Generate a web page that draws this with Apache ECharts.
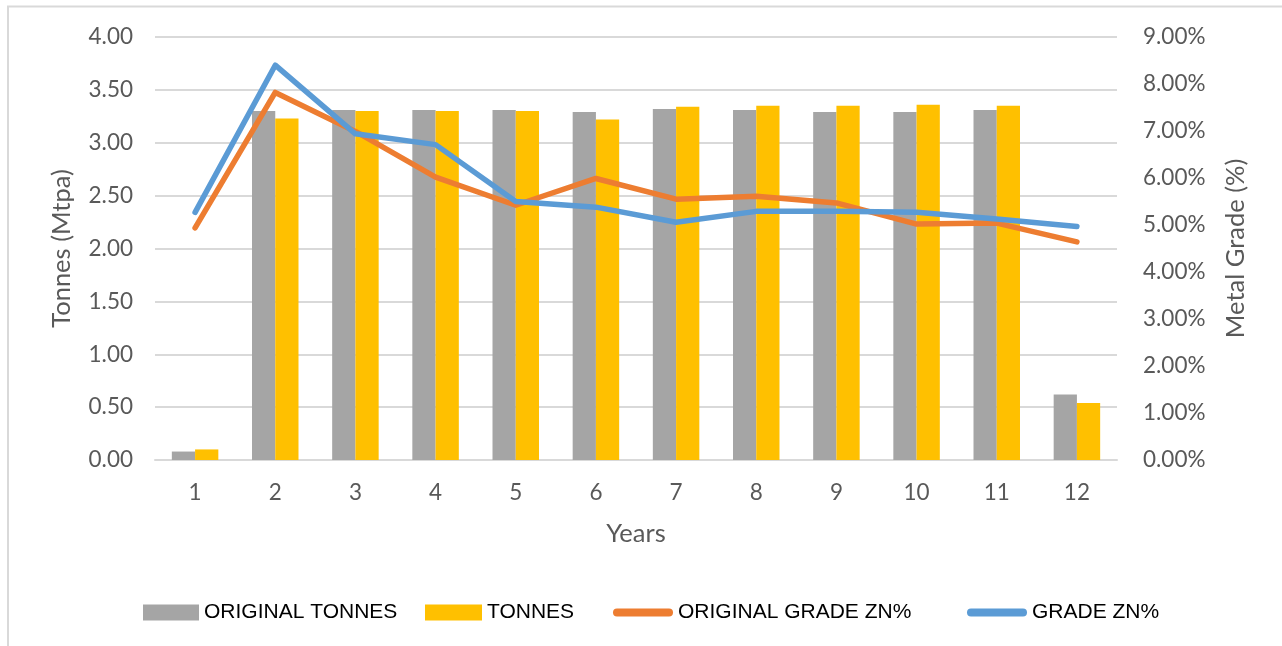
<!DOCTYPE html>
<html>
<head>
<meta charset="utf-8">
<script src="https://cdn.jsdelivr.net/npm/echarts@6/dist/echarts.min.js"></script>
<style>
html,body{margin:0;padding:0;background:#fff;}
#chart{width:1282px;height:646px;}
</style>
</head>
<body>
<div id="chart"></div>
<script>
const years = ['1','2','3','4','5','6','7','8','9','10','11','12'];
const originalTonnes = [0.08, 3.30, 3.31, 3.31, 3.31, 3.29, 3.32, 3.31, 3.29, 3.29, 3.31, 0.62];
const tonnes = [0.10, 3.23, 3.30, 3.30, 3.30, 3.22, 3.34, 3.35, 3.35, 3.36, 3.35, 0.54];
const originalGrade = [4.94, 7.82, 6.99, 6.02, 5.42, 5.99, 5.55, 5.61, 5.47, 5.02, 5.04, 4.64];
const grade = [5.27, 8.40, 6.94, 6.71, 5.50, 5.38, 5.06, 5.29, 5.29, 5.27, 5.13, 4.97];
const leftTicks = {min: 0, max: 4, interval: 0.5};
const rightTicks = {min: 0, max: 9, interval: 1};

const labelFont = {fontFamily: 'Lato', fontSize: 22.5, color: '#595959'};
const nameFont = {fontFamily: 'Lato', fontSize: 25.5, color: '#595959'};
const legendText = {fontFamily: 'Liberation Sans, Arial', fontSize: 21, color: '#000'};
const lineIcon = 'path://M4,0 L56,0 A4,4 0 0 1 56,8 L4,8 A4,4 0 0 1 4,0 Z';

const chart = echarts.init(document.getElementById('chart'));
chart.setOption({
  animation: false,
  backgroundColor: '#fff',
  graphic: [{
    type: 'polyline',
    shape: {points: [[8, 700], [8, 6.5], [1300, 6.5]]},
    style: {stroke: '#d9d9d9', lineWidth: 2, fill: null},
    silent: true
  }],
  grid: {left: 155, right: 165, top: 37, bottom: 186},
  legend: [
    {data: [{name: 'ORIGINAL TONNES', icon: 'rect'}], left: 138, top: 597, itemWidth: 56, itemHeight: 16, itemGap: 0, textStyle: legendText},
    {data: [{name: 'TONNES', icon: 'rect'}], left: 420, top: 597, itemWidth: 57, itemHeight: 16, itemGap: 0, textStyle: legendText},
    {data: [{name: 'ORIGINAL GRADE ZN%', icon: lineIcon}], left: 608, top: 597, itemWidth: 60, itemHeight: 16, itemGap: 0, textStyle: legendText},
    {data: [{name: 'GRADE ZN%', icon: lineIcon}], left: 962, top: 597, itemWidth: 60, itemHeight: 16, itemGap: 0, textStyle: legendText}
  ],
  xAxis: {
    type: 'category',
    data: years,
    name: 'Years',
    nameLocation: 'middle',
    nameGap: 61,
    nameTextStyle: nameFont,
    axisLine: {lineStyle: {color: '#d9d9d9', width: 2}},
    axisTick: {show: false},
    axisLabel: Object.assign({margin: 21}, labelFont)
  },
  yAxis: [
    {
      type: 'value',
      min: leftTicks.min, max: leftTicks.max, interval: leftTicks.interval,
      name: 'Tonnes (Mtpa)',
      nameLocation: 'middle',
      nameGap: 80,
      nameTextStyle: nameFont,
      axisLine: {show: false},
      axisTick: {show: false},
      splitLine: {lineStyle: {color: '#d9d9d9', width: 2}},
      axisLabel: Object.assign({margin: 22, formatter: v => v.toFixed(2)}, labelFont)
    },
    {
      type: 'value',
      min: rightTicks.min, max: rightTicks.max, interval: rightTicks.interval,
      name: 'Metal Grade (%)',
      nameLocation: 'middle',
      nameGap: 106,
      nameRotate: 90,
      nameTextStyle: nameFont,
      axisLine: {show: false},
      axisTick: {show: false},
      splitLine: {show: false},
      axisLabel: Object.assign({margin: 26, formatter: v => v.toFixed(2) + '%'}, labelFont)
    }
  ],
  series: [
    {name: 'ORIGINAL TONNES', type: 'bar', data: originalTonnes, barWidth: '29%', barGap: '0%', itemStyle: {color: '#A5A5A5'}},
    {name: 'TONNES', type: 'bar', data: tonnes, barWidth: '29%', barGap: '0%', itemStyle: {color: '#FFC000'}},
    {name: 'ORIGINAL GRADE ZN%', type: 'line', yAxisIndex: 1, data: originalGrade, showSymbol: false, symbol: 'none', lineStyle: {color: '#ED7D31', width: 5.5, cap: 'round', join: 'round'}, itemStyle: {color: '#ED7D31'}},
    {name: 'GRADE ZN%', type: 'line', yAxisIndex: 1, data: grade, showSymbol: false, symbol: 'none', lineStyle: {color: '#5B9BD5', width: 5.5, cap: 'round', join: 'round'}, itemStyle: {color: '#5B9BD5'}}
  ]
});
</script>
</body>
</html>
